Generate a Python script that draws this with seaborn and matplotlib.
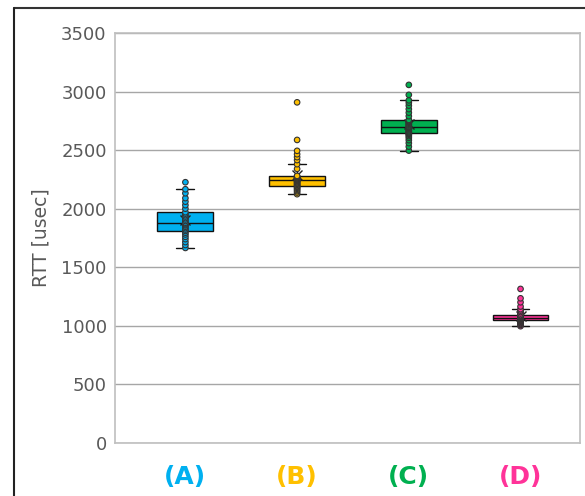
import numpy as np
import pandas as pd
import matplotlib
matplotlib.use("Agg")
import matplotlib.pyplot as plt
from matplotlib.lines import Line2D
import seaborn as sns

categories = ["(A)", "(B)", "(C)", "(D)"]
colors = ["#00B0F0", "#FFC000", "#00B050", "#FF3399"]

rtt_a = [1665, 1690, 1715, 1740, 1760, 1780, 1795, 1810, 1822, 1834, 1846, 1858,
         1866, 1874, 1881, 1895, 1908, 1920, 1933, 1945, 1958, 1970, 2000, 2030,
         2060, 2090, 2132, 2166, 2226]
rtt_b = [2124, 2138, 2150, 2160, 2170, 2178, 2186, 2192, 2198, 2205, 2212, 2219,
         2226, 2232, 2237, 2242, 2246, 2250, 2254, 2258, 2262, 2267, 2271, 2276,
         2280, 2340, 2380, 2415, 2440, 2465, 2494, 2587, 2908]
rtt_c = [2496, 2530, 2560, 2585, 2605, 2620, 2632, 2640, 2645, 2652, 2660, 2668,
         2676, 2684, 2690, 2696, 2701, 2710, 2718, 2726, 2734, 2741, 2747, 2753,
         2758, 2790, 2820, 2850, 2880, 2905, 2925, 2972, 3057]
rtt_d = [997, 1008, 1016, 1024, 1030, 1036, 1040, 1043, 1046, 1050, 1054, 1058,
         1061, 1064, 1066, 1068, 1070, 1073, 1076, 1079, 1082, 1085, 1088, 1090,
         1092, 1105, 1118, 1130, 1142, 1165, 1201, 1235, 1315]

yticks = [0, 500, 1000, 1500, 2000, 2500, 3000, 3500]

rows = []
for cat, vals in zip(categories, [rtt_a, rtt_b, rtt_c, rtt_d]):
    for v in vals:
        rows.append({"group": cat, "rtt": v})
df = pd.DataFrame(rows)

sns.set_theme(style="white")
plt.rcParams["font.family"] = ["DejaVu Sans"]

fig = plt.figure(figsize=(5.85, 4.96), dpi=100)
ax = fig.add_axes([0.1966, 0.1069, 0.7944, 0.8266])

palette = dict(zip(categories, colors))
sns.boxplot(data=df, x="group", y="rtt", hue="group", palette=palette,
            order=categories, width=0.5, showmeans=True, showfliers=False,
            linecolor="#111111", linewidth=1.0, legend=False, saturation=1,
            meanprops=dict(marker="x", markeredgecolor="#222222",
                           markersize=7, markeredgewidth=1.0),
            capwidths=0.16, ax=ax, zorder=2)
sns.stripplot(data=df, x="group", y="rtt", hue="group", palette=palette,
              order=categories, jitter=False, size=4, linewidth=0.8,
              edgecolor="#333333", legend=False, ax=ax, zorder=3)

ax.set_ylim(0, 3500)
ax.set_xlim(-0.63, 3.53)
ax.set_yticks(yticks)
ax.set_yticklabels([str(t) for t in yticks], fontsize=13, color="#595959")
ax.yaxis.grid(True, color="#A6A6A6", linewidth=1.0)
ax.set_axisbelow(True)
ax.tick_params(axis="both", length=0, pad=6)
ax.set_xlabel("")
ax.set_ylabel("RTT [usec]", fontsize=13.5, color="#595959", labelpad=8)
ax.set_xticks(range(len(categories)))
ax.set_xticklabels(categories, fontsize=18, fontweight="bold")
for lbl, c in zip(ax.get_xticklabels(), colors):
    lbl.set_color(c)
ax.tick_params(axis="x", pad=16)
for s in ax.spines.values():
    s.set_color("#BFBFBF")
    s.set_linewidth(1.2)

fig.add_artist(Line2D([14 / 585, 1.0], [1 - 8 / 496, 1 - 8 / 496],
                      transform=fig.transFigure, color="#333333", linewidth=1.5))
fig.add_artist(Line2D([14 / 585, 14 / 585], [0, 1 - 8 / 496],
                      transform=fig.transFigure, color="#222222", linewidth=1.5))

fig.savefig("out.png", dpi=100)
